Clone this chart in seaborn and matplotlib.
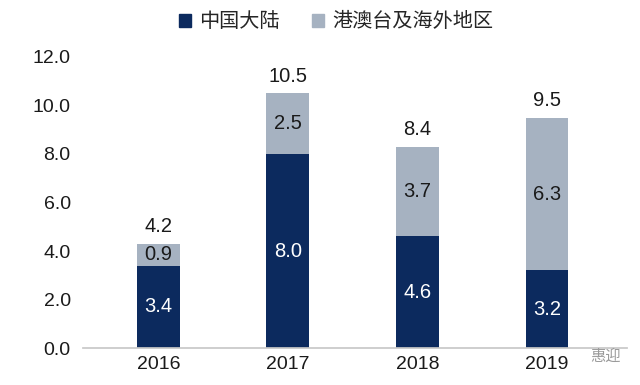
import pandas as pd
import matplotlib
matplotlib.use('Agg')
import matplotlib.pyplot as plt
import seaborn as sns
from matplotlib.patches import Patch

# 数据
YEARS = ['2016', '2017', '2018', '2019']
MAINLAND = [3.4, 8.0, 4.6, 3.2]
OVERSEAS = [0.9, 2.5, 3.7, 6.3]
TOTALS = [4.2, 10.5, 8.4, 9.5]

NAVY = '#0c2a5e'
GRAY = '#a6b2c1'
FS = 14.5

sns.set_theme(style='white')
plt.rcParams['font.family'] = ['Liberation Sans', 'Noto Sans CJK SC', 'DejaVu Sans']

df = pd.DataFrame({'year': YEARS, 'mainland': MAINLAND, 'overseas': OVERSEAS})
df['stack'] = df['mainland'] + df['overseas']

fig = plt.figure(figsize=(6.4, 3.85), dpi=100)
ax = fig.add_axes([0.13, 0.096, 0.85, 0.756])

# 叠加柱：先画总高度(灰)，再画大陆部分(深蓝)
sns.barplot(data=df, x='year', y='stack', color=GRAY, width=0.33,
            saturation=1, linewidth=0, ax=ax)
sns.barplot(data=df, x='year', y='mainland', color=NAVY, width=0.33,
            saturation=1, linewidth=0, ax=ax)

for i in range(len(YEARS)):
    m, o, t = MAINLAND[i], OVERSEAS[i], TOTALS[i]
    ax.text(i, m / 2, f'{m:.1f}', ha='center', va='center',
            color='white', fontsize=FS)
    ax.text(i, m + o / 2, f'{o:.1f}', ha='center', va='center',
            color='#1a1a1a', fontsize=FS)
    ax.text(i, m + o + 0.3, f'{t:.1f}', ha='center', va='bottom',
            color='#1a1a1a', fontsize=FS)

ax.set_ylim(0, 12)
ax.set_xlim(-0.58, 3.62)
ax.set_yticks([0, 2, 4, 6, 8, 10, 12])
ax.set_yticklabels([f'{v:.1f}' for v in [0, 2, 4, 6, 8, 10, 12]])
ax.set_xlabel('')
ax.set_ylabel('')
ax.tick_params(axis='both', labelsize=14, colors='#1a1a1a', length=0)
ax.tick_params(axis='y', pad=9)
ax.tick_params(axis='x', pad=6)
for s in ['top', 'right', 'left']:
    ax.spines[s].set_visible(False)
ax.spines['bottom'].set_color('#c8c8c8')

handles = [Patch(color=NAVY, label='中国大陆'), Patch(color=GRAY, label='港澳台及海外地区')]
fig.legend(handles=handles, loc='upper center', bbox_to_anchor=(0.525, 1.015),
           ncol=2, frameon=False, fontsize=14.5, handlelength=0.6,
           handleheight=0.6, handletextpad=0.4, columnspacing=1.6)

fig.text(0.97, 0.075, '惠迎', ha='right', va='center', fontsize=11,
         color='#9a9a9a')

fig.savefig('out.png', dpi=100)
